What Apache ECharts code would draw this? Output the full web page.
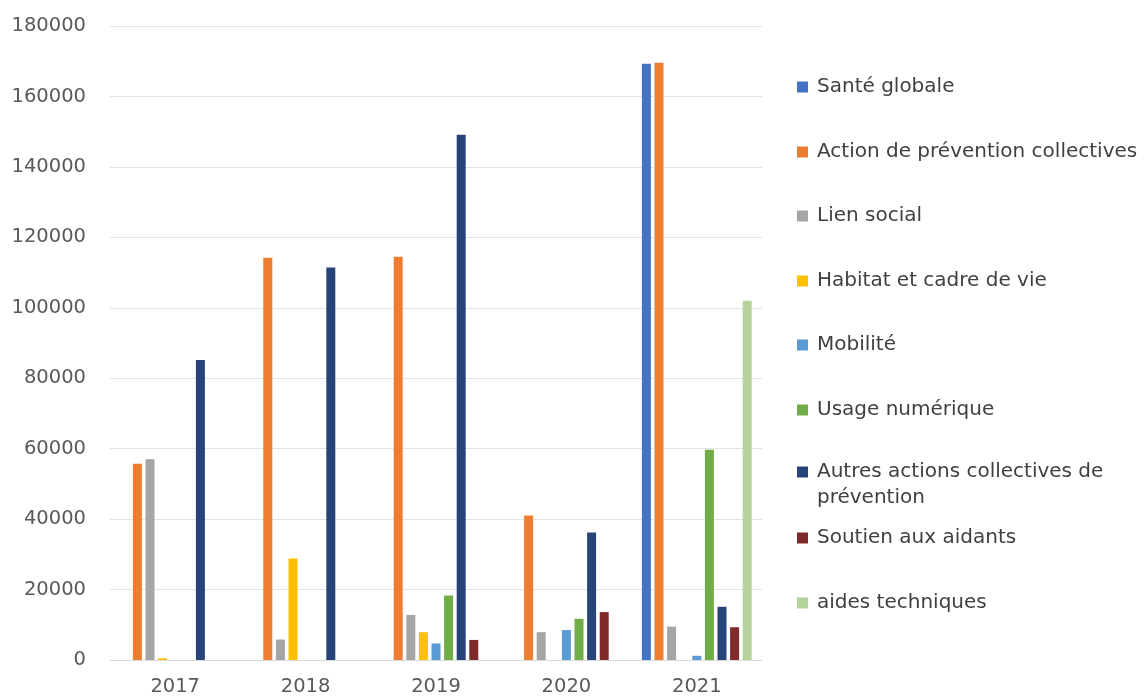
<!DOCTYPE html>
<html>
<head>
<meta charset="utf-8">
<script src="https://cdn.jsdelivr.net/npm/echarts@6/dist/echarts.min.js"></script>
<style>
html,body{margin:0;padding:0;background:#fff;}
#chart{width:1146px;height:698px;}
</style>
</head>
<body>
<div id="chart"></div>
<script>
const years = ['2017','2018','2019','2020','2021'];
const seriesNames = [
  'Santé globale',
  'Action de prévention collectives',
  'Lien social',
  'Habitat et cadre de vie',
  'Mobilité',
  'Usage numérique',
  'Autres actions collectives de prévention',
  'Soutien aux aidants',
  'aides techniques'
];
const santeGlobale      = [0, 0, 0, 0, 169300];
const actionPrevention  = [55700, 114200, 114500, 41000, 169600];
const lienSocial        = [57000, 5800, 12800, 7900, 9500];
const habitat           = [500, 28800, 7900, 0, 0];
const mobilite          = [0, 0, 4700, 8500, 1200];
const usageNumerique    = [0, 0, 18300, 11700, 59700];
const autresActions     = [85200, 111400, 149100, 36200, 15100];
const soutienAidants    = [0, 0, 5700, 13600, 9300];
const aidesTechniques   = [0, 0, 0, 0, 102000];
const yTicks = [0, 20000, 40000, 60000, 80000, 100000, 120000, 140000, 160000, 180000];

const values = [santeGlobale, actionPrevention, lienSocial, habitat, mobilite,
                usageNumerique, autresActions, soutienAidants, aidesTechniques];
const colors = ['#4472C4','#ED7D31','#A5A5A5','#FFC000','#5B9BD5','#70AD47','#264478','#7f2a2a','#B4D39A'];

const legendCenters = [87, 152, 216, 281, 345, 410, 472, 538, 603];
const FONT = 'DejaVu Sans';

const legends = seriesNames.map((n, i) => {
  const wrapped = i === 6;
  return {
    data: [n],
    left: 797,
    top: wrapped ? legendCenters[i] - 39 : legendCenters[i] - 13,
    padding: 0,
    itemWidth: 11,
    itemHeight: 11,
    itemGap: 0,
    icon: 'rect',
    selectedMode: false,
    formatter: wrapped ? '\u00a0\nAutres actions collectives de\nprévention' : '{name}',
    textStyle: {
      fontFamily: FONT,
      fontSize: 20,
      color: '#404040',
      lineHeight: 26,
      padding: [0, 0, 0, 4]
    }
  };
});

const chart = echarts.init(document.getElementById('chart'));
chart.setOption({
  animation: false,
  backgroundColor: '#fff',
  color: colors,
  legend: legends,
  grid: { left: 110, right: 384, top: 26, bottom: 38, containLabel: false },
  xAxis: {
    type: 'category',
    data: years,
    axisLine: { show: true, lineStyle: { color: '#d9d9d9', width: 1 } },
    axisTick: { show: false },
    axisLabel: { fontFamily: FONT, fontSize: 19.5, color: '#595959', margin: 17 }
  },
  yAxis: {
    type: 'value',
    min: yTicks[0],
    max: yTicks[yTicks.length - 1],
    interval: yTicks[1] - yTicks[0],
    axisLine: { show: false },
    axisTick: { show: false },
    splitLine: { lineStyle: { color: '#e3e3e3', width: 1 } },
    axisLabel: {
      fontFamily: FONT, fontSize: 19.5, color: '#595959', margin: 24,
      formatter: v => String(v)
    }
  },
  series: seriesNames.map((n, i) => ({
    name: n,
    type: 'bar',
    data: values[i],
    barWidth: 9,
    barGap: '40%',
    itemStyle: { color: colors[i] }
  }))
});
</script>
</body>
</html>
